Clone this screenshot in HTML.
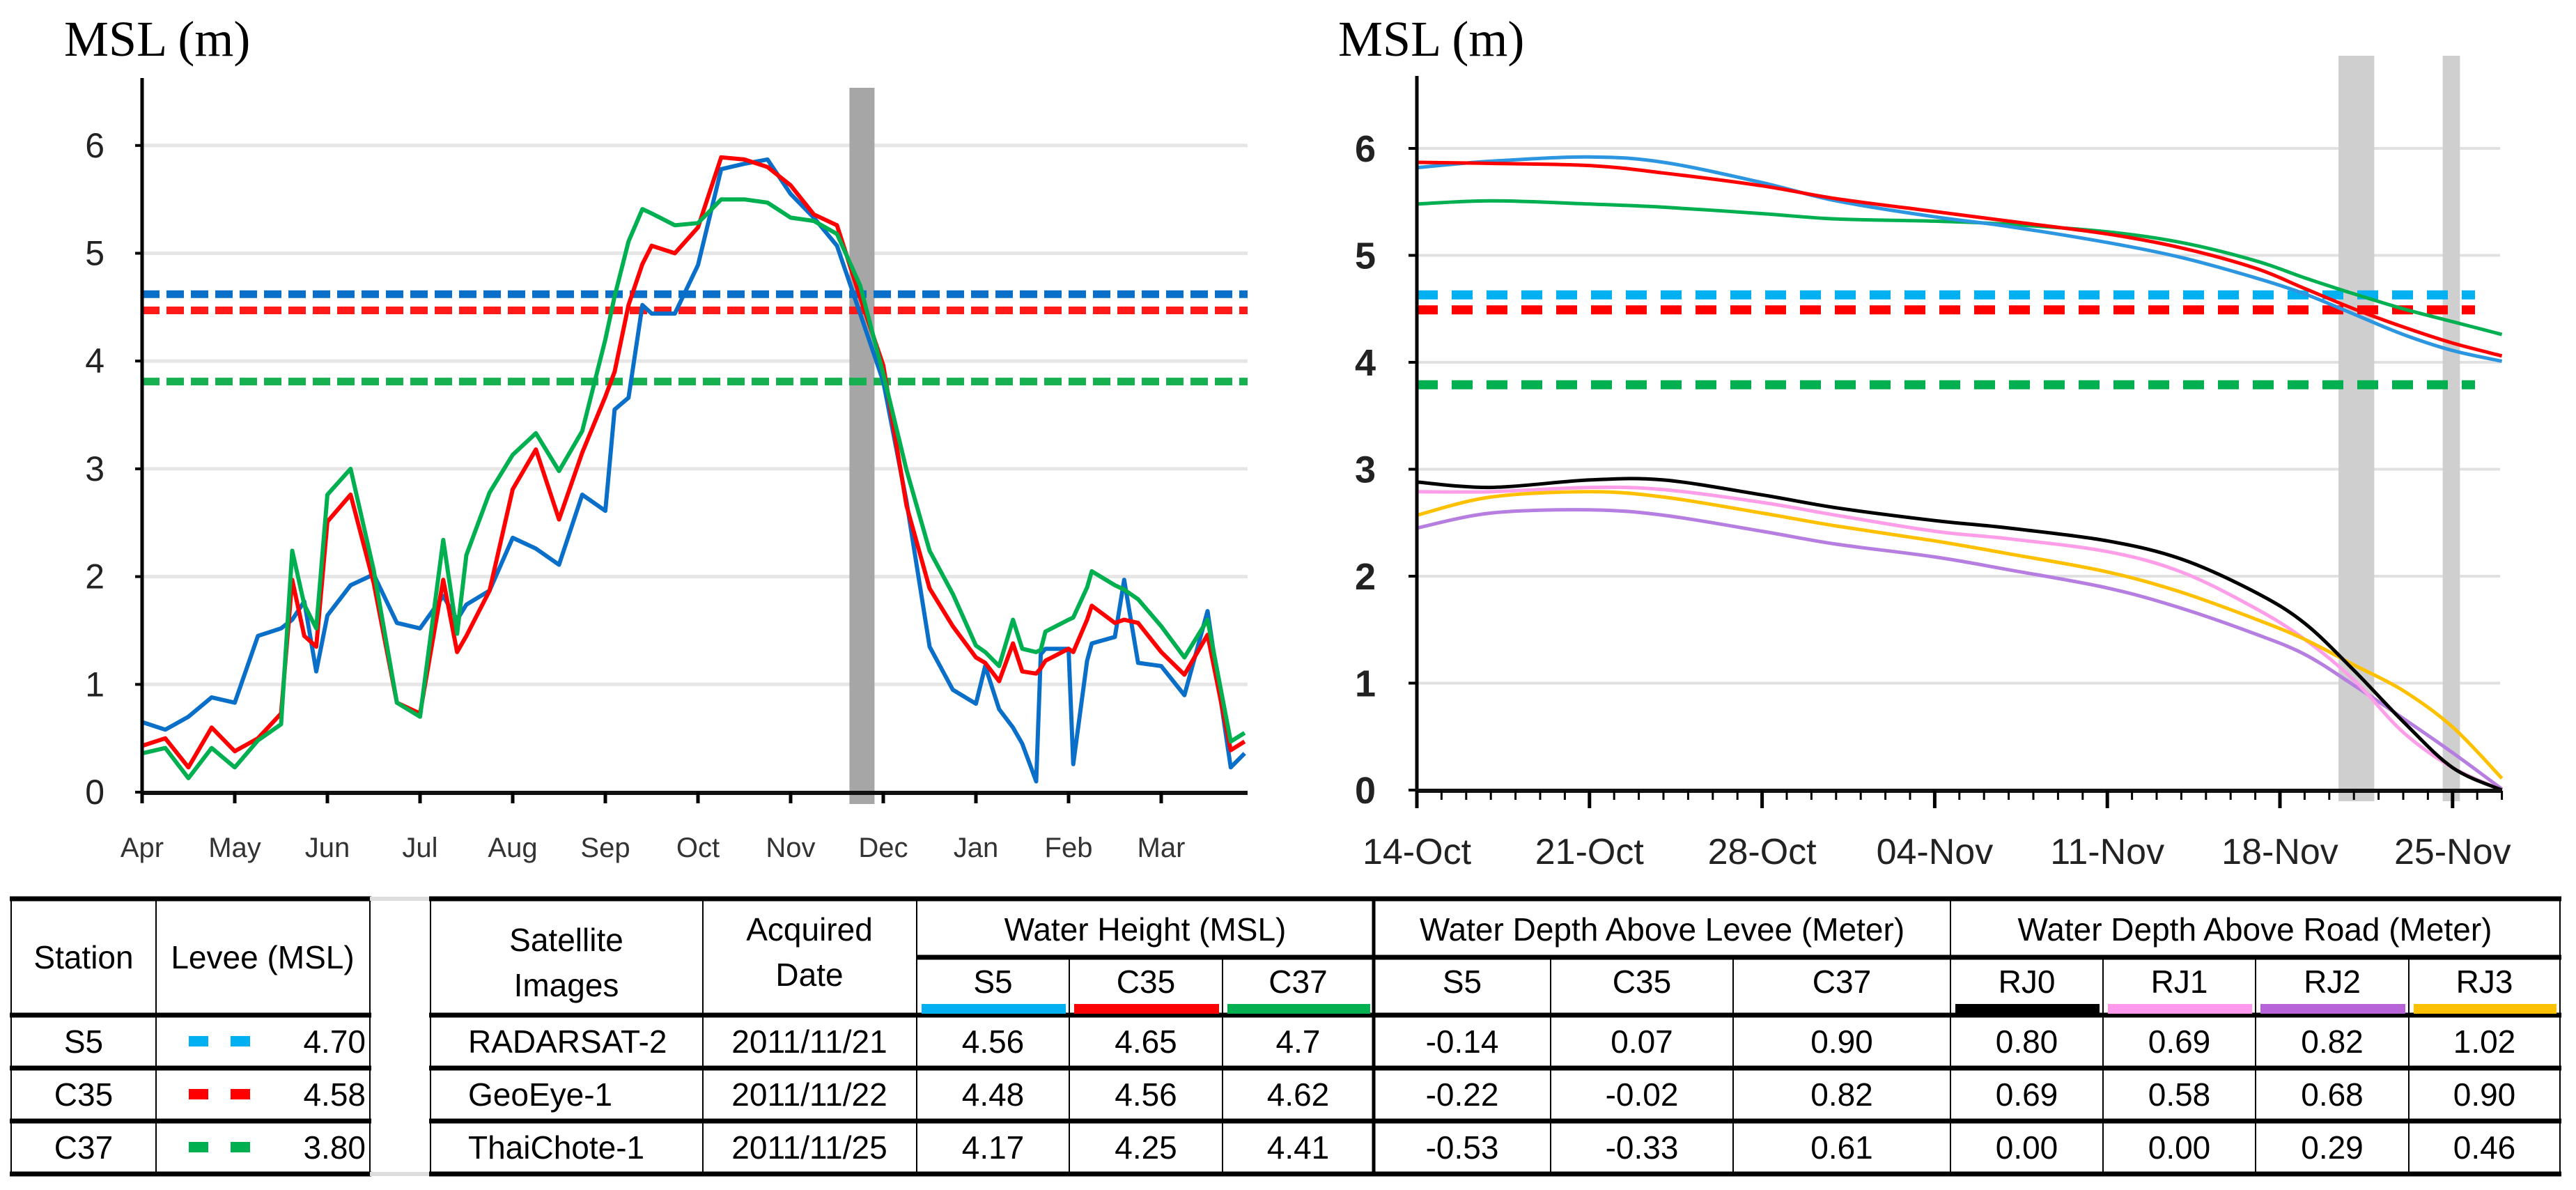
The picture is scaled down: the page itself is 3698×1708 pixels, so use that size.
<!DOCTYPE html>
<html><head><meta charset="utf-8"><style>
html,body{margin:0;padding:0;background:#fff;}
svg{display:block;}
text{font-family:"Liberation Sans",Arial,sans-serif;}
</style></head><body>
<svg id="root" xmlns="http://www.w3.org/2000/svg" width="3698" height="1708" viewBox="0 0 3698 1708">
<rect x="0" y="0" width="3698" height="1708" fill="#fff"/>
<g id="left"></g>
<g id="right"></g>
<g id="table"></g>
</svg>
<script>
const NS="http://www.w3.org/2000/svg";
// ---- Left chart data (x = month index from start of April) ----
const leftMonths=[0,0.25,0.5,0.75,1,1.25,1.5,1.62,1.75,1.88,2,2.25,2.5,2.75,3,3.25,3.4,3.5,3.75,4,4.25,4.5,4.75,5,5.1,5.25,5.4,5.5,5.75,6,6.25,6.5,6.75,7,7.25,7.5,7.75,8,8.25,8.5,8.75,9,9.1,9.25,9.4,9.5,9.65,9.7,9.75,10,10.05,10.2,10.25,10.5,10.6,10.75,11,11.25,11.5,11.75,11.9];
const leftS5=[0.65,0.58,0.70,0.88,0.83,1.45,1.52,1.6,1.77,1.12,1.64,1.92,2.02,1.57,1.52,1.82,1.6,1.74,1.87,2.36,2.26,2.11,2.76,2.61,3.55,3.66,4.52,4.44,4.44,4.89,5.78,5.83,5.87,5.55,5.33,5.07,4.44,3.81,2.70,1.35,0.95,0.82,1.17,0.77,0.6,0.45,0.1,1.28,1.33,1.33,0.26,1.22,1.38,1.44,1.97,1.2,1.17,0.9,1.68,0.23,0.36];
const leftC35=[0.43,0.5,0.23,0.6,0.38,0.5,0.73,1.97,1.45,1.35,2.51,2.76,1.94,0.83,0.73,1.97,1.3,1.45,1.87,2.81,3.18,2.53,3.15,3.67,3.9,4.52,4.9,5.07,5.0,5.24,5.89,5.87,5.8,5.63,5.36,5.26,4.59,3.96,2.66,1.89,1.54,1.25,1.2,1.03,1.38,1.12,1.1,1.15,1.22,1.33,1.3,1.6,1.73,1.57,1.6,1.57,1.3,1.09,1.46,0.39,0.47];
const leftC37=[0.36,0.41,0.13,0.41,0.23,0.48,0.63,2.24,1.74,1.52,2.76,3.0,2.06,0.83,0.70,2.34,1.47,2.2,2.78,3.13,3.33,2.98,3.35,4.2,4.6,5.11,5.41,5.37,5.26,5.28,5.5,5.5,5.47,5.33,5.3,5.18,4.7,3.88,2.99,2.24,1.84,1.36,1.3,1.17,1.6,1.33,1.3,1.32,1.49,1.6,1.62,1.9,2.05,1.92,1.88,1.79,1.54,1.25,1.6,0.47,0.55];
const monthLabels=["Apr","May","Jun","Jul","Aug","Sep","Oct","Nov","Dec","Jan","Feb","Mar"];
const yTicks=[0,1,2,3,4,5,6];
const leveeValues=[4.62,4.47,3.81];
const leftBandMonth=[7.77];
// ---- Right chart data (x = days since 14-Oct) ----
const rightDays=[0,3,7,10,14,17,21,24,28,31,34,36,38,40,42,44];
const rS5=[5.82,5.88,5.92,5.87,5.68,5.51,5.36,5.27,5.12,4.98,4.79,4.64,4.45,4.26,4.11,4.01];
const rC35=[5.87,5.86,5.84,5.77,5.65,5.53,5.41,5.32,5.2,5.07,4.88,4.69,4.5,4.33,4.18,4.06];
const rC37=[5.48,5.51,5.48,5.45,5.39,5.34,5.32,5.29,5.22,5.12,4.95,4.79,4.64,4.5,4.38,4.26];
const rRJ0=[2.88,2.83,2.9,2.9,2.76,2.64,2.52,2.45,2.33,2.16,1.85,1.56,1.12,0.64,0.21,0.0];
const rRJ1=[2.79,2.79,2.83,2.81,2.69,2.57,2.42,2.35,2.23,2.04,1.7,1.41,1.03,0.54,0.21,0.0];
const rRJ2=[2.45,2.59,2.62,2.57,2.42,2.3,2.18,2.06,1.89,1.7,1.46,1.27,0.98,0.67,0.35,0.01];
const rRJ3=[2.57,2.74,2.79,2.74,2.59,2.47,2.33,2.21,2.04,1.85,1.6,1.41,1.17,0.93,0.59,0.11];
const dateLabels=["14-Oct","21-Oct","28-Oct","04-Nov","11-Nov","18-Nov","25-Nov"];
const rightLevee=[4.63,4.49,3.79];
const rightBandDays=[38.1,41.95];
const rightBandWidths=[1.45,0.7];

function el(tag,attrs,parent,txt){const e=document.createElementNS(NS,tag);for(const k in attrs)e.setAttribute(k,attrs[k]);if(txt!==undefined)e.textContent=txt;parent.appendChild(e);return e;}

// ---------- LEFT CHART ----------
const L=document.getElementById('left');
const lx=m=>204+133*m;
const ly=v=>1137-154.7*v;
let t=el('text',{x:92,y:80,'font-size':72,style:'font-family:"Liberation Serif",serif'},L,'MSL (m)');


yTicks.forEach(v=>{
  if(v>0){const g=el('line',{x1:204,x2:1791,y1:ly(v),y2:ly(v),stroke:'#e6e6e6','stroke-width':5},L);
  }
  el('line',{x1:194,x2:204,y1:ly(v),y2:ly(v),stroke:'#000','stroke-width':4},L);
  const tl=el('text',{x:150,y:ly(v)+17,'text-anchor':'end','font-size':50,fill:'#222'},L,String(v));
  
});
leftBandMonth.forEach(m=>{const b=el('rect',{x:lx(m)-18,y:126,width:36,height:1028,fill:'#a6a6a6'},L);
});
const levCols=['#0a6fc8','#ff1a1a','#16b050'];
leveeValues.forEach((v,i)=>{const d=el('line',{x1:204,x2:1791,y1:ly(v),y2:ly(v),stroke:levCols[i],'stroke-width':11,'stroke-dasharray':'25 10'},L);
});
function poly(xs,ys,fx,fy){return xs.map((x,i)=>fx(x).toFixed(1)+','+fy(ys[i]).toFixed(1)).join(' ');}
[[leftS5,'#0a6fc8','left-series-s5'],[leftC35,'#ff0000','left-series-c35'],[leftC37,'#00b050','left-series-c37']].forEach(s=>{
  const p=el('polyline',{points:poly(leftMonths,s[0],lx,ly),fill:'none',stroke:s[1],'stroke-width':6,'stroke-linejoin':'round'},L);
  
});
el('line',{x1:204,x2:204,y1:112,y2:1140,stroke:'#000','stroke-width':5},L);
el('line',{x1:202,x2:1791,y1:1138,y2:1138,stroke:'#111','stroke-width':6},L);
monthLabels.forEach((lab,i)=>{
  el('line',{x1:lx(i),x2:lx(i),y1:1137,y2:1153,stroke:'#000','stroke-width':5},L);
  const ml=el('text',{x:lx(i),y:1230,'text-anchor':'middle','font-size':40,fill:'#333'},L,lab);
  
});

// ---------- RIGHT CHART ----------
const R=document.getElementById('right');
const rx=d=>2034+35.4*d;
const ry=v=>1134-153.5*v;
t=el('text',{x:1921,y:80,'font-size':72,style:'font-family:"Liberation Serif",serif'},R,'MSL (m)');


yTicks.forEach(v=>{
  if(v>0){const g=el('line',{x1:2034,x2:3589,y1:ry(v),y2:ry(v),stroke:'#e0e0e0','stroke-width':4},R);
  }
  el('line',{x1:2022,x2:2034,y1:ry(v),y2:ry(v),stroke:'#000','stroke-width':4},R);
  const tl=el('text',{x:1975,y:ry(v)+19,'text-anchor':'end','font-size':54,'font-weight':'bold',fill:'#222'},R,String(v));
  
});
rightBandDays.forEach((d,i)=>{const b=el('rect',{x:rx(d)-rightBandWidths[i]*35.4/2,y:80,width:rightBandWidths[i]*35.4,height:1070,fill:'#cfcfcf'},R);
});
const rLevCols=['#00b0f0','#ff0000','#00b050'];
rightLevee.forEach((v,i)=>{const d=el('line',{x1:2034,x2:3553,y1:ry(v),y2:ry(v),stroke:rLevCols[i],'stroke-width':13,'stroke-dasharray':'30 20'},R);
});
function smooth(xs,ys,fx,fy){
  const P=xs.map((x,i)=>[fx(x),fy(ys[i])]);let d='M'+P[0][0]+','+P[0][1];
  for(let i=0;i<P.length-1;i++){const p0=P[i-1]||P[i],p1=P[i],p2=P[i+1],p3=P[i+2]||p2;
    const c1=[p1[0]+(p2[0]-p0[0])/6,p1[1]+(p2[1]-p0[1])/6],c2=[p2[0]-(p3[0]-p1[0])/6,p2[1]-(p3[1]-p1[1])/6];
    d+=` C${c1[0].toFixed(1)},${c1[1].toFixed(1)} ${c2[0].toFixed(1)},${c2[1].toFixed(1)} ${p2[0].toFixed(1)},${p2[1].toFixed(1)}`;}
  return d;}
[[rRJ2,'#b57ee0','right-series-rj2'],[rRJ1,'#ff9ee8','right-series-rj1'],[rRJ3,'#ffc000','right-series-rj3'],[rRJ0,'#000000','right-series-rj0'],
 [rC37,'#00b050','right-series-c37'],[rS5,'#2c96e0','right-series-s5'],[rC35,'#ff0000','right-series-c35']].forEach(s=>{
  const p=el('path',{d:smooth(rightDays,s[0],rx,ry),fill:'none',stroke:s[1],'stroke-width':5},R);
  
});
el('line',{x1:2034,x2:2034,y1:109,y2:1137,stroke:'#000','stroke-width':5},R);
el('line',{x1:2032,x2:3592,y1:1135,y2:1135,stroke:'#111','stroke-width':6},R);
for(let d=0;d<=44;d++){el('line',{x1:rx(d),x2:rx(d),y1:1135,y2:(d%7===0?1160:1148),stroke:'#000','stroke-width':(d%7===0?5:3)},R);}
dateLabels.forEach((lab,i)=>{
  const dl=el('text',{x:rx(i*7),y:1240,'text-anchor':'middle','font-size':52,fill:'#222'},R,lab);
  
});

// ---------- TABLE ----------
const T=document.getElementById('table');
const H=[1290,1457,1533,1609,1685];
function hline(x1,x2,y,w){el('line',{x1:x1,x2:x2,y1:y,y2:y,stroke:'#000','stroke-width':w},T);}
function vline(x,y1,y2,w){el('line',{x1:x,x2:x,y1:y1,y2:y2,stroke:'#000','stroke-width':w},T);}
function txt(x,y,s,anchor,name){const e=el('text',{x:x,y:y,'text-anchor':anchor||'middle','font-size':46,fill:'#000'},T,s);
  return e;}
// left table
H.forEach(y=>hline(14,533,y,7));
[16,224,531].forEach(x=>vline(x,1290,1685,2));
el('rect',{x:531,y:1287,width:87,height:6,fill:'#ddd'},T);
el('rect',{x:531,y:1682,width:87,height:6,fill:'#ddd'},T);
txt(120,1390,'Station','middle','station-header');
txt(377,1390,'Levee (MSL)','middle','levee-header');
const stations=['S5','C35','C37'], leveeText=['4.70','4.58','3.80'], stCols=['#00b0f0','#ff0000','#00b050'];
const rowMid=[1511,1587,1663];
stations.forEach((s,i)=>{txt(120,rowMid[i],s,'middle','station-name');
  el('rect',{x:271,y:rowMid[i]-24,width:28,height:15,fill:stCols[i]},T);
  el('rect',{x:331,y:rowMid[i]-24,width:28,height:15,fill:stCols[i]},T);
  txt(525,rowMid[i],leveeText[i],'end','levee-value');});
// right table
const C=[618,1009,1316,1535,1755,1972,2226,2488,2800,3019,3238,3458,3675];
H.forEach(y=>hline(616,3677,y,7));
hline(1316,3677,1374,7);
C.forEach((x,i)=>{vline(x,i<=2||i===5||i===8||i===12?1290:1374,1685,x===1972?5:2);});
txt(813,1365,'Satellite');txt(813,1430,'Images');
txt(1162,1350,'Acquired');txt(1162,1415,'Date');
txt(1644,1350,'Water Height (MSL)');
txt(2386,1350,'Water Depth Above Levee (Meter)');
txt(3237,1350,'Water Depth Above Road (Meter)');
const sub=['S5','C35','C37','S5','C35','C37','RJ0','RJ1','RJ2','RJ3'];
sub.forEach((s,i)=>txt((C[i+2]+C[i+3])/2,1425,s,'middle','sub-header'));
const barCols=['#00b0f0','#ff0000','#00b050',null,null,null,'#000000','#ff99ee','#b864d9','#ffc000'];
barCols.forEach((c,i)=>{if(c)el('rect',{x:C[i+2]+7,y:1441,width:C[i+3]-C[i+2]-12,height:14,fill:c},T);});
const sats=['RADARSAT-2','GeoEye-1','ThaiChote-1'];
const dates=['2011/11/21','2011/11/22','2011/11/25'];
const rows=[['4.56','4.65','4.7','-0.14','0.07','0.90','0.80','0.69','0.82','1.02'],
            ['4.48','4.56','4.62','-0.22','-0.02','0.82','0.69','0.58','0.68','0.90'],
            ['4.17','4.25','4.41','-0.53','-0.33','0.61','0.00','0.00','0.29','0.46']];
rows.forEach((r,ri)=>{txt(672,rowMid[ri],sats[ri],'start','satellite-name');
  txt(1162,rowMid[ri],dates[ri],'middle','acquired-date');
  r.forEach((v,i)=>txt((C[i+2]+C[i+3])/2,rowMid[ri],v,'middle','table-value'));});
</script>
</body></html>
